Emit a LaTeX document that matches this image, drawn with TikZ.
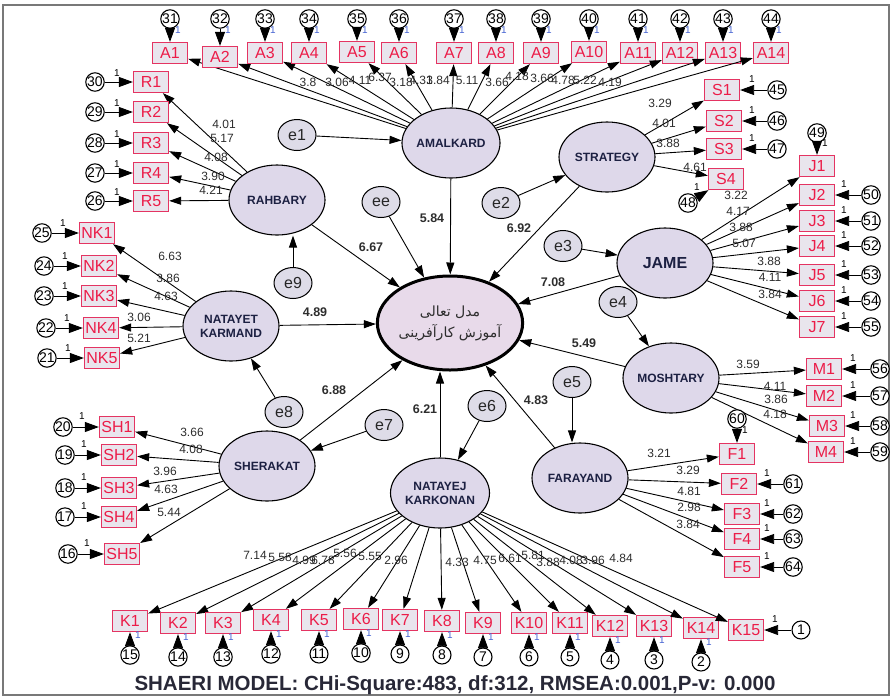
\documentclass[tikz,border=0pt]{standalone}
\usepackage{fontspec}
\setmainfont{Liberation Sans}
\newfontfamily\arabicfont[Script=Arabic]{DejaVu Sans}
\TeXXeTstate=1
\usetikzlibrary{shapes.geometric,arrows.meta}
\definecolor{boxred}{RGB}{228,52,98}
\definecolor{boxtxt}{RGB}{236,28,72}
\definecolor{boxfill}{RGB}{233,229,237}
\definecolor{latfill}{RGB}{222,216,234}
\definecolor{centfill}{RGB}{232,218,234}
\definecolor{efill}{RGB}{222,220,232}
\definecolor{lattxt}{RGB}{28,32,66}
\definecolor{labtxt}{RGB}{45,45,45}
\definecolor{onebl}{RGB}{70,100,210}
\definecolor{framegray}{RGB}{120,120,120}
\definecolor{titletxt}{RGB}{40,40,55}
\tikzset{
  lat/.style={ellipse,draw,line width=1.1pt,fill=latfill,minimum width=96pt,minimum height=70pt,inner sep=0pt,align=center,text=lattxt,font=\bfseries\fontsize{12}{14}\selectfont},
  centre/.style={ellipse,draw,line width=3pt,fill=centfill,minimum width=140pt,minimum height=94pt,inner sep=0pt,align=center,text=labtxt,font=\arabicfont\fontsize{14}{21}\selectfont},
  erre/.style={ellipse,draw,line width=1pt,fill=efill,minimum width=38pt,minimum height=31pt,inner sep=0pt,text=black!85,font=\fontsize{16}{16}\selectfont},
  obs/.style={rectangle,draw=boxred,line width=1.3pt,fill=boxfill,minimum width=35pt,minimum height=21pt,inner sep=0pt,text=boxtxt,font=\fontsize{16}{16}\selectfont},
  ec/.style={circle,draw,line width=1.1pt,fill=white,minimum size=18pt,inner sep=0pt,font=\fontsize{14}{14}\selectfont},
  arr/.style={line width=0.9pt,-{Triangle[length=12pt,width=8pt]}},
  earr/.style={line width=0.9pt,-{Triangle[length=14pt,width=10pt]}},
  lab/.style={inner sep=0pt,text=labtxt,font=\fontsize{12}{12}\selectfont},
  blab/.style={inner sep=0pt,text=labtxt,font=\bfseries\fontsize{12.5}{12.5}\selectfont},
  one/.style={inner sep=0pt,font=\fontsize{10}{10}\selectfont},
}
\begin{document}
\begin{tikzpicture}[x=1pt,y=-1pt]
\useasboundingbox (0,0) rectangle (893,697);
\draw[framegray,line width=1.2pt] (3,5) rectangle (889,695);

% latent variables
\node[lat] (amal) at (451,143) {AMALKARD};
\node[lat] (rah) at (277,200) {RAHBARY};
\node[lat] (strat) at (607,157) {STRATEGY};
\node[lat,font=\bfseries\fontsize{16}{16}\selectfont] (jame) at (665,263) {JAME};
\node[lat] (mosh) at (671,378) {MOSHTARY};
\node[lat] (far) at (580,478) {FARAYAND};
\node[lat] (nkar) at (440,493) {NATAYEJ\\KARKONAN};
\node[lat] (sher) at (267,466) {SHERAKAT};
\node[lat] (nkm) at (231,326) {NATAYET\\KARMAND};
\node[centre] (cent) at (450,323) {\beginR مدل تعالی\endR\\\beginR آموزش کارآفرینی\endR};

% disturbances
\node[erre] (e1) at (297,135) {e1};
\node[erre] (ee) at (381,202) {ee};
\node[erre] (e2) at (501,203) {e2};
\node[erre] (e3) at (563,246) {e3};
\node[erre] (e4) at (618,302) {e4};
\node[erre] (e5) at (572,382) {e5};
\node[erre] (e6) at (487,406) {e6};
\node[erre] (e7) at (384,425) {e7};
\node[erre] (e8) at (284,412) {e8};
\node[erre] (e9) at (293,283) {e9};

% structural paths
\draw[arr] (e1) -- (amal);
\draw[arr] (ee) -- (cent);
\draw[arr] (amal) -- (cent);
\draw[arr] (rah) -- (cent);
\draw[arr] (e9) -- (e9 |- rah.south);
\draw[arr] (e2) -- (strat);
\draw[arr] (strat) -- (cent);
\draw[arr] (e3) -- (jame);
\draw[arr] (jame) -- (cent);
\draw[arr] (e4) -- (mosh);
\draw[arr] (mosh) -- (cent);
\draw[arr] (e5) -- (e5 |- far.north);
\draw[arr] (far) -- (cent);
\draw[arr] (e6) -- (nkar);
\draw[arr] (nkar) -- (nkar |- cent.south);
\draw[arr] (e7) -- (sher);
\draw[arr] (sher) -- (cent);
\draw[arr] (e8) -- (nkm);
\draw[arr] (nkm) -- (cent);

\foreach \t/\x/\y [count=\k] in {5.84/432/218,6.67/371/247,6.92/519/228,7.08/553/282,4.89/315/312,5.49/584/343,6.88/334/390,6.21/425/409,4.83/536/400}
  \node[blab] (ls\k) at (\x,\y) {\t};

% AMALKARD indicators
\foreach \i/\x/\y in {1/170/53,2/220/57,3/265/53,4/309/53,5/357/52,6/399/53,7/454/53,8/496/53,9/541/53,10/589/52,11/638/53,12/680/53,13/723/53,14/771/53}{
  \pgfmathtruncatemacro\n{30+\i}
  \node[obs] (A\i) at (\x,\y) {A\i};
  \node[ec] (cA\i) at (\x,19) {\n};
  \draw[earr] (cA\i) -- (A\i);
  \node[one,text=onebl] (oA\i) at (\x+8,30) {1};
  \draw[arr] (amal) -- (A\i);
}
\foreach \t/\x/\y [count=\k] in {3.8/308/82,3.06/337/82,4.11/360/80,6.37/380/77,3.18/401/82,4.31/421/80,3.84/438/80,5.11/467/80,3.66/497/82,4.18/517/76,3.66/542/78,4.78/563/80,5.22/585/80,4.19/610/82}
  \node[lab] (la\k) at (\x,\y) {\t};

% RAHBARY indicators
\foreach \i/\y/\n in {1/82/30,2/112/29,3/143/28,4/173/27,5/201/26}{
  \node[obs] (R\i) at (151,\y) {R\i};
  \node[ec] (cR\i) at (95,\y) {\n};
  \draw[earr] (cR\i) -- (R\i);
  \node[one] (oR\i) at (117,\y-9) {1};
  \draw[arr] (rah) -- (R\i);
}
\foreach \t/\x/\y [count=\k] in {4.01/224/124,5.17/222/138,4.08/216/157,3.90/213/176,4.21/211/190}
  \node[lab] (lr\k) at (\x,\y) {\t};

% NATAYET KARMAND indicators
\foreach \i/\x/\y/\n in {1/97/233/25,2/99/266/24,3/99/296/23,4/101/328/22,5/102/358/21}{
  \node[obs] (NK\i) at (\x,\y) {NK\i};
  \node[ec] (cNK\i) at (\x-55,\y) {\n};
  \draw[earr] (cNK\i) -- (NK\i);
  \node[one] (oNK\i) at (\x-34,\y-10) {1};
  \draw[arr] (nkm) -- (NK\i);
}
\foreach \t/\x/\y [count=\k] in {6.63/170/256,3.86/168/278,4.63/166/296,3.06/139/317,5.21/139/338}
  \node[lab] (lnk\k) at (\x,\y) {\t};

% SHERAKAT indicators
\foreach \i/\x/\y/\n in {1/117/427/20,2/119/455/19,3/119/488/18,4/119/517/17,5/122/554/16}{
  \node[obs] (SH\i) at (\x,\y) {SH\i};
  \node[ec] (cSH\i) at (\x-54,\y) {\n};
  \draw[earr] (cSH\i) -- (SH\i);
  \node[one] (oSH\i) at (\x-35,\y-11) {1};
  \draw[arr] (sher) -- (SH\i);
}
\foreach \t/\x/\y [count=\k] in {3.66/192/432,4.08/191/449,3.96/165/471,4.63/166/489,5.44/169/512}
  \node[lab] (lsh\k) at (\x,\y) {\t};

% STRATEGY indicators
\foreach \i/\x/\y in {1/722/90,2/724/121,3/724/149,4/726/179}{
  \node[obs] (S\i) at (\x,\y) {S\i};
  \draw[arr] (strat) -- (S\i);
}
\foreach \i/\x/\y/\n/\ox/\oy in {1/777/90/45/752/79,2/777/121/46/752/110,3/777/149/47/752/138,4/688/203/48/697/187}{
  \node[ec] (cS\i) at (\x,\y) {\n};
  \draw[earr] (cS\i) -- (S\i);
  \node[one] (oS\i) at (\ox,\oy) {1};
}
\foreach \t/\x/\y [count=\k] in {3.29/660/103,4.01/664/123,3.88/668/143,4.61/695/167}
  \node[lab] (lst\k) at (\x,\y) {\t};

% JAME indicators
\foreach \i/\y in {1/166,2/195,3/221,4/246,5/275,6/301,7/327}{
  \node[obs] (J\i) at (817,\y) {J\i};
  \draw[arr] (jame) -- (J\i);
}
\node[ec] (cJ1) at (817,133) {49};
\draw[earr] (cJ1) -- (J1);
\node[one] (oJ1) at (825,143) {1};
\foreach \i/\y/\n in {2/195/50,3/221/51,4/246/52,5/275/53,6/301/54,7/327/55}{
  \node[ec] (cJ\i) at (871,\y) {\n};
  \draw[earr] (cJ\i) -- (J\i);
  \node[one] (oJ\i) at (844,\y-11) {1};
}
\foreach \t/\x/\y [count=\k] in {3.22/736/195,4.17/738/211,3.88/741/227,5.07/744/243,3.88/769/261,4.11/770/277,3.84/770/294}
  \node[lab] (lj\k) at (\x,\y) {\t};

% MOSHTARY indicators
\foreach \i/\x/\y/\n in {1/824/369/56,2/824/396/57,3/827/426/58,4/826/452/59}{
  \node[obs] (M\i) at (\x,\y) {M\i};
  \node[ec] (cM\i) at (880,\y) {\n};
  \draw[earr] (cM\i) -- (M\i);
  \node[one] (oM\i) at (853,\y-11) {1};
  \draw[arr] (mosh) -- (M\i);
}
\foreach \t/\x/\y [count=\k] in {3.59/748/364,4.11/775/386,3.86/776/399,4.18/775/414}
  \node[lab] (lm\k) at (\x,\y) {\t};

% FARAYAND indicators
\foreach \i/\x/\y in {1/737/454,2/739/484,3/742/514,4/742/539,5/742/567}{
  \node[obs] (F\i) at (\x,\y) {F\i};
  \draw[arr] (far) -- (F\i);
}
\node[ec] (cF1) at (737,419) {60};
\draw[earr] (cF1) -- (F1);
\node[one] (oF1) at (745,430) {1};
\foreach \i/\y/\n in {2/484/61,3/514/62,4/539/63,5/567/64}{
  \node[ec] (cF\i) at (793,\y) {\n};
  \draw[earr] (cF\i) -- (F\i);
  \node[one] (oF\i) at (767,\y-11) {1};
}
\foreach \t/\x/\y [count=\k] in {3.21/659/453,3.29/688/470,4.81/689/491,2.98/689/507,3.84/688/524}
  \node[lab] (lf\k) at (\x,\y) {\t};

% NATAYEJ KARKONAN indicators
\foreach \i/\x/\y/\n in {1/130/621/15,2/178/623/14,3/223/623/13,4/271/620/12,5/319/620/11,6/361/619/10,7/400/620/9,8/442/621/8,9/483/623/7,10/529/623/6,11/570/623/5,12/610/626/4,13/654/626/3,14/701/628/2}{
  \node[obs] (K\i) at (\x,\y) {K\i};
  \node[ec] (cK\i) at (\x,\y+34) {\n};
  \draw[earr] (cK\i) -- (K\i);
  \node[one,text=onebl] (oK\i) at (\x+8,\y+14) {1};
  \draw[arr] (nkar) -- (K\i);
}
\node[obs] (K15) at (746,630) {K15};
\node[ec] (cK15) at (801,630) {1};
\draw[earr] (cK15) -- (K15);
\node[one] (oK15) at (775,619) {1};
\draw[arr] (nkar) -- (K15);
\foreach \t/\x/\y [count=\k] in {7.14/255/555,5.58/280/557,4.99/304/560,6.78/323/560,5.56/345/553,5.55/370/556,2.96/396/560,4.33/457/562,4.75/485/560,6.61/510/558,5.81/533/555,3.88/548/562,4.08/571/560,3.96/593/560,4.84/621/558}
  \node[lab] (lk\k) at (\x,\y) {\t};

% caption
\node[inner sep=0pt,text=titletxt,font=\bfseries\fontsize{20.5}{22}\selectfont] (title) at (455,685) {SHAERI MODEL: CHi-Square:483, df:312, RMSEA:0.001,P-v: 0.000};
\end{tikzpicture}
\end{document}
